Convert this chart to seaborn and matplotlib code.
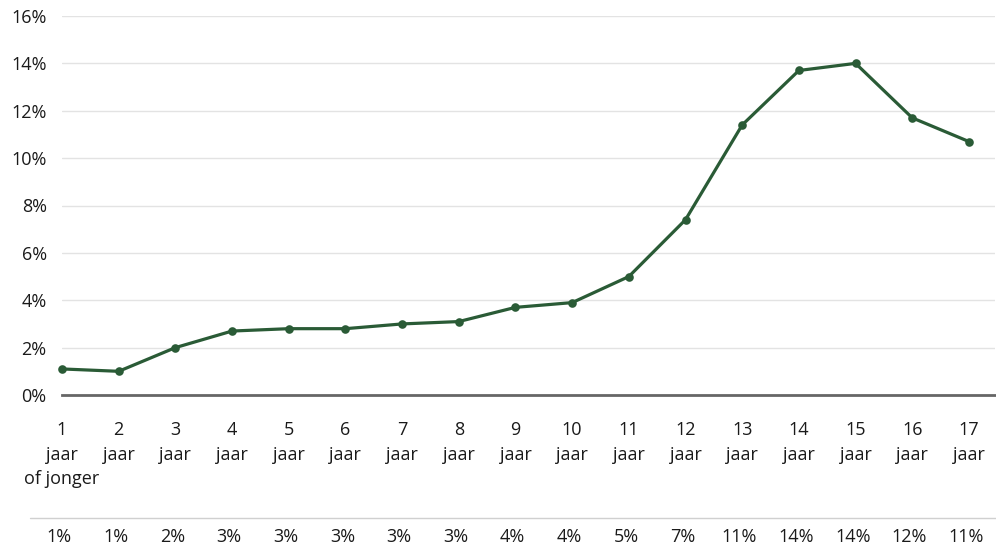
import matplotlib.pyplot as plt
import seaborn as sns
import pandas as pd
from matplotlib.lines import Line2D
from matplotlib.ticker import FuncFormatter
import matplotlib.transforms as mtransforms

sns.set_style("white")
plt.rcParams['font.family'] = ['Open Sans', 'DejaVu Sans']

# data
leeftijd = list(range(1, 18))
aandeel = [1.1, 1.0, 2.0, 2.7, 2.8, 2.8, 3.0, 3.1, 3.7, 3.9, 5.0, 7.4, 11.4, 13.7, 14.0, 11.7, 10.7]
tick_labels = ["1\njaar\nof jonger"] + [f"{a}\njaar" for a in leeftijd[1:]]
rij_labels = ["1%", "1%", "2%", "3%", "3%", "3%", "3%", "3%", "4%", "4%",
              "5%", "7%", "11%", "14%", "14%", "12%", "11%"]

df = pd.DataFrame({"leeftijd": leeftijd, "aandeel": aandeel})

fig = plt.figure(figsize=(9.96, 5.52), dpi=100)
ax = fig.add_axes([62 / 996, 1 - 395 / 552, (995 - 62) / 996, (395 - 16) / 552])

sns.lineplot(data=df, x="leeftijd", y="aandeel", ax=ax, color="#2a5b36",
             linewidth=2.3, marker="o", markersize=6.2, markeredgewidth=0)

ax.set_ylim(0, 16)
ax.set_xlim(1, 17.46)
ax.set_yticks(range(0, 17, 2))
ax.yaxis.set_major_formatter(FuncFormatter(lambda v, p: f"{int(v)}%"))
ax.set_xticks(leeftijd)
ax.set_xticklabels(tick_labels, fontsize=13, color="#1a1a1a", linespacing=1.45, va="top")
ax.tick_params(axis="y", length=0, pad=11, labelsize=13, labelcolor="#1a1a1a")
ax.tick_params(axis="x", length=0, pad=19)
ax.grid(axis="y", color="#e3e3e3", linewidth=1)
ax.set_axisbelow(True)
for s in ["top", "right", "left"]:
    ax.spines[s].set_visible(False)
ax.spines["bottom"].set_color("#666666")
ax.spines["bottom"].set_linewidth(2)
ax.set_xlabel("")
ax.set_ylabel("")
for line in ax.lines:
    line.set_clip_on(False)

# table row below the chart
fig.add_artist(Line2D([30 / 996, 1], [1 - 518 / 552] * 2, color="#d0d0d0", linewidth=1))
trans = mtransforms.blended_transform_factory(ax.transData, fig.transFigure)
for x, lab in zip(leeftijd, rij_labels):
    ax.text(x - 0.05, 1 - 537 / 552, lab, transform=trans, ha="center", va="center",
            fontsize=13, color="#1a1a1a")

fig.savefig("out.png", dpi=100)
